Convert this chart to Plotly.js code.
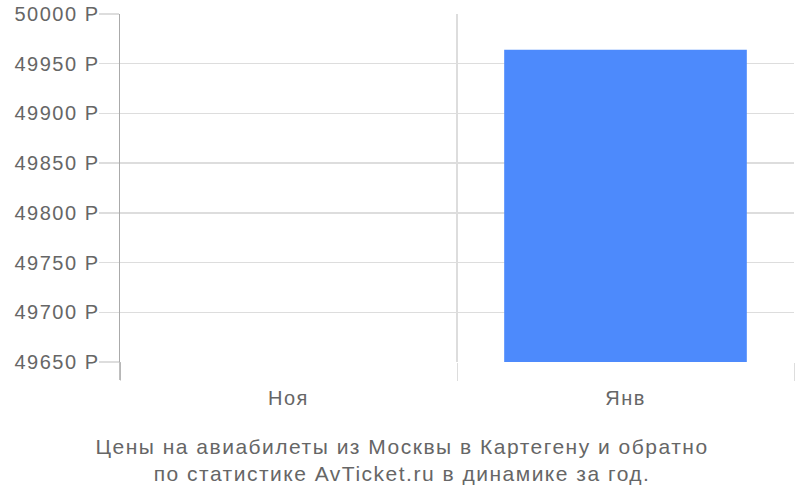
<!DOCTYPE html>
<html><head><meta charset="utf-8">
<script src="https://cdn.plot.ly/plotly-3.0.1.min.js"></script>
<style>html,body{margin:0;padding:0;background:#fff}#c{width:800px;height:500px}
#c svg text{letter-spacing:1.5px}</style>
</head><body><div id="c"></div>
<script>
const months = ['Ноя', 'Янв'];
const prices = [null, 49964];
const yTicks = [49650, 49700, 49750, 49800, 49850, 49900, 49950, 50000];
const yTickText = yTicks.map(v => v + ' Р');
const titleLines = ['Цены на авиабилеты из Москвы в Картегену и обратно', 'по статистике AvTicket.ru в динамике за год.'];

const xPos = months.map((m, i) => i + 0.5);
const font = 'Liberation Sans, Arial, sans-serif';

Plotly.newPlot('c', [{
  type: 'bar', x: xPos, y: prices, width: 0.72,
  marker: {color: '#4d8afc'}, hoverinfo: 'none'
}], {
  width: 800, height: 500,
  margin: {l: 120, r: 6, t: 14, b: 138},
  paper_bgcolor: '#fff', plot_bgcolor: '#fff',
  showlegend: false,
  font: {family: font, size: 20, color: '#666'},
  xaxis: {
    range: [0, months.length], tickvals: xPos, ticktext: months,
    ticks: 'outside', ticklen: 18, tickcolor: 'rgba(0,0,0,0)',
    showgrid: false, zeroline: false, showline: false,
    tickfont: {size: 20, color: '#666'},
    minor: {tick0: 0, dtick: 1, ticks: 'outside', ticklen: 18, tickcolor: '#ddd', showgrid: true, gridcolor: '#ddd', gridwidth: 1.5}
  },
  yaxis: {
    range: [49650, 50000], tickvals: yTicks, ticktext: yTickText,
    ticks: 'outside', ticklen: 20, tickcolor: '#ddd', tickwidth: 1.5,
    ticklabelstandoff: -5,
    showgrid: true, gridcolor: '#ddd', gridwidth: 1.5, zeroline: false,
    showline: true, linecolor: '#aaa', linewidth: 1.5,
    tickfont: {size: 20, color: '#666'}
  },
  shapes: [{type: 'line', xref: 'paper', yref: 'paper', x0: 0, x1: 0, y0: -18/348, y1: 0, line: {color: '#aaa', width: 1.5}}],
  annotations: [{
    xref: 'paper', yref: 'paper', x: (402-120)/674, y: -0.203, yanchor: 'top', xanchor: 'center',
    text: titleLines.join('<br>'), showarrow: false, font: {size: 21, color: '#666'}
  }]
}, {staticPlot: true});
</script></body></html>
